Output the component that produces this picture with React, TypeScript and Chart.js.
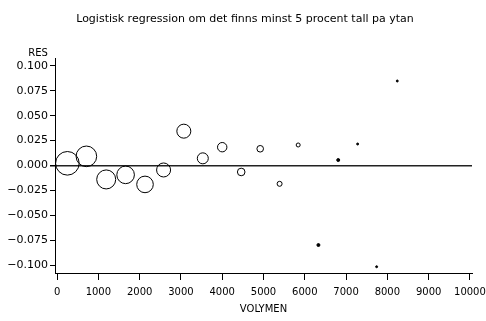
import { useEffect, useRef } from "react";
import { Chart, registerables } from "chart.js";

Chart.register(...registerables);

// Residuals of the logistic regression, grouped by volume
const VOLYMEN = [250, 710, 1190, 1660, 2130, 2580, 3070, 3530, 4000, 4460, 4920, 5390, 5840, 6330, 6810, 7280, 7740, 8240];
const RES = [0.0022, 0.0092, -0.014, -0.0094, -0.019, -0.0045, 0.0345, 0.0072, 0.0184, -0.0065, 0.0168, -0.0184, 0.0206, -0.0799, 0.0055, 0.0216, -0.1017, 0.0849];
// Bubble radius (group weight)
const WEIGHT = [11.8, 10.3, 9.5, 8.8, 8.3, 7, 7, 5.5, 4.7, 3.8, 3.3, 2.5, 2, 1.5, 1.5, 1, 1, 1];

const X_TICKS = [0, 1000, 2000, 3000, 4000, 5000, 6000, 7000, 8000, 9000, 10000];
const Y_TICKS = [-0.1, -0.075, -0.05, -0.025, 0, 0.025, 0.05, 0.075, 0.1];

const TITLE = "Logistisk regression om det finns minst 5 procent tall pa ytan";
const X_LABEL = "VOLYMEN";
const Y_LABEL = "RES";

const FONT = "'DejaVu Sans', sans-serif";

// Title above the plot and the axis name above the y axis
const headerPlugin = {
  id: "header",
  afterDraw(chart: any) {
    const ctx = chart.ctx;
    ctx.save();
    ctx.fillStyle = "#000";
    ctx.textAlign = "center";
    ctx.textBaseline = "middle";
    ctx.font = `11px ${FONT}`;
    ctx.fillText(TITLE, 245, 19);
    ctx.font = `10px ${FONT}`;
    ctx.fillText(Y_LABEL, 38, 53);
    ctx.restore();
  },
};

export default function App() {
  const canvasRef = useRef<HTMLCanvasElement>(null);

  useEffect(() => {
    if (!canvasRef.current) return;
    const points = VOLYMEN.map((x, i) => ({ x, y: RES[i], r: WEIGHT[i] }));
    const chart = new Chart(canvasRef.current, {
      type: "bubble",
      data: {
        datasets: [
          {
            data: points,
            borderColor: "#000",
            borderWidth: 1,
            backgroundColor: (c: any) => (c.raw && c.raw.r < 2 ? "#000" : "rgba(0,0,0,0)"),
          },
        ],
      },
      options: {
        responsive: false,
        animation: false,
        events: [],
        layout: { padding: { left: 0, right: 14, top: 58, bottom: 0 } },
        plugins: {
          legend: { display: false },
          tooltip: { enabled: false },
          title: { display: false },
        },
        scales: {
          x: {
            type: "linear",
            min: -50,
            max: 10050,
            afterBuildTicks: (s: any) => {
              s.ticks = X_TICKS.map((value) => ({ value }));
            },
            afterFit: (s: any) => {
              s.height = 48;
              s.paddingLeft = 0;
              s.paddingRight = 0;
            },
            ticks: {
              color: "#000",
              font: { family: FONT, size: 10 },
              padding: 6,
              maxRotation: 0,
              autoSkip: false,
              callback: (v: any) => String(v),
            },
            grid: { drawOnChartArea: false, drawTicks: true, tickLength: 7, tickColor: "#000" },
            border: { display: true, color: "#000", width: 1 },
            title: {
              display: true,
              text: X_LABEL,
              color: "#000",
              font: { family: FONT, size: 10 },
              padding: { top: 0, bottom: 6 },
            },
          },
          y: {
            type: "linear",
            min: -0.108,
            max: 0.108,
            afterBuildTicks: (s: any) => {
              s.ticks = Y_TICKS.map((value) => ({ value }));
            },
            afterFit: (s: any) => {
              s.width = 55;
            },
            ticks: {
              color: "#000",
              font: { family: FONT, size: 11 },
              padding: 2,
              autoSkip: false,
              callback: (v: any) => Number(v).toFixed(3).replace("-", "\u2212"),
            },
            grid: {
              drawOnChartArea: true,
              drawTicks: true,
              tickLength: 5,
              tickColor: "#000",
              color: (c: any) => (c.tick && c.tick.value === 0 ? "#222" : "rgba(0,0,0,0)"),
              lineWidth: (c: any) => (c.tick && c.tick.value === 0 ? 1.5 : 1),
            },
            border: { display: true, color: "#000", width: 1 },
          },
        },
      },
      plugins: [headerPlugin],
    });
    return () => chart.destroy();
  }, []);

  return (
    <div style={{ position: "absolute", left: 0, top: 0, width: 486, height: 321, background: "#fff" }}>
      <canvas ref={canvasRef} width={486} height={321} style={{ display: "block" }} />
    </div>
  );
}
